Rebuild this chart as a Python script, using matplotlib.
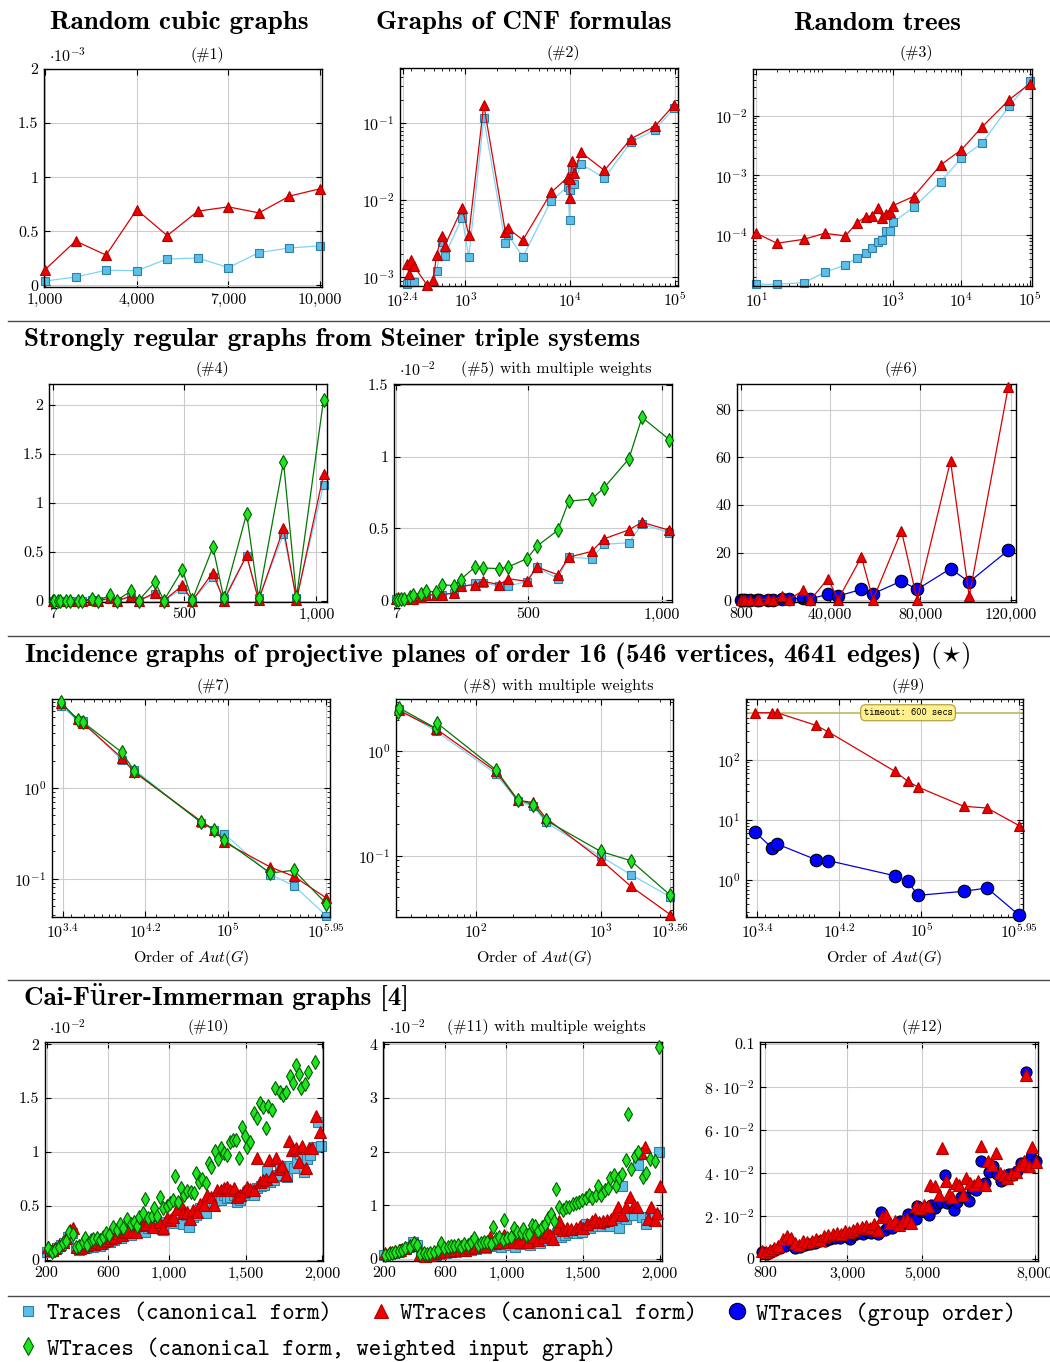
import matplotlib
matplotlib.use('Agg')
import matplotlib.pyplot as plt
import numpy as np
from matplotlib.lines import Line2D
from matplotlib.ticker import LogLocator, NullFormatter
from matplotlib.font_manager import FontProperties

plt.rcParams['font.family'] = ['cmr10', 'DejaVu Serif']
plt.rcParams['mathtext.fontset'] = 'cm'
plt.rcParams['axes.unicode_minus'] = False
plt.rcParams['axes.formatter.use_mathtext'] = True

# ------------------------------------------------------------------ data
# (#1) random cubic graphs, time in 1e-3 s
p1_x = [1000, 2000, 3000, 4000, 5000, 6000, 7000, 8000, 9000, 10000]
p1_traces = [0.04, 0.077, 0.14, 0.136, 0.244, 0.253, 0.164, 0.303, 0.346, 0.365]
p1_wtraces = [0.145, 0.41, 0.28, 0.70, 0.46, 0.686, 0.726, 0.67, 0.825, 0.893]

# (#2) CNF formulas
p2_x = [274, 290, 305, 324, 431, 492, 530, 596, 635, 930, 1076, 1496, 2404, 2547, 3540,
        6592, 9500, 9860, 10000, 10450, 10840, 12740, 21230, 38100, 64500, 98600]
p2_traces = [8.1e-4, 8.7e-4, 8.6e-4, 8.6e-4, 6.2e-4, 6.8e-4, 1.21e-3, 2.85e-3, 1.91e-3, 5.95e-3,
             1.84e-3, 0.115, 2.77e-3, 3.55e-3, 1.84e-3, 9.9e-3, 0.0150, 5.56e-3, 0.0134, 0.026,
             0.0163, 0.0294, 0.0193, 0.0567, 0.0819, 0.157]
p2_wtraces = [1.49e-3, 1.09e-3, 1.68e-3, 1.38e-3, 7.9e-4, 9.2e-4, 1.95e-3, 3.44e-3, 2.58e-3, 7.87e-3,
              3.55e-3, 0.173, 3.9e-3, 4.3e-3, 3.05e-3, 0.0126, 0.0199, 0.0106, 0.0187, 0.0318,
              0.0224, 0.0416, 0.0243, 0.0627, 0.0906, 0.173]

# (#3) random trees
p3_x = [10, 20, 50, 100, 200, 300, 400, 500, 600, 700, 800, 900, 1000, 2000, 5000, 10000, 20000, 50000, 100000]
p3_traces = [1.51e-5, 1.51e-5, 1.61e-5, 2.40e-5, 3.18e-5, 4.22e-5, 5.13e-5, 6.21e-5, 7.83e-5, 8.35e-5,
             1.18e-4, 1.20e-4, 1.65e-4, 2.94e-4, 7.92e-4, 1.95e-3, 3.48e-3, 0.0143, 0.0376]
p3_wtraces = [1.08e-4, 7.35e-5, 8.57e-5, 1.08e-4, 9.75e-5, 1.63e-4, 2.05e-4, 2.11e-4, 2.91e-4, 1.98e-4,
              2.28e-4, 2.49e-4, 3.14e-4, 4.45e-4, 1.51e-3, 2.69e-3, 6.46e-3, 0.0185, 0.0343]

# (#4), (#5) Steiner triple systems
sts_x = [7, 12, 26, 35, 57, 70, 100, 117, 155, 176, 222, 247, 301, 330, 392, 425, 495, 532,
         610, 651, 737, 782, 876, 925, 1027]
p4_traces = [0, 0, 0, 0, 0, 0, 0.001, 0.001, 0.01, 0.002, 0.02, 0.003, 0.04, 0.003, 0.068, 0.004,
             0.126, 0.005, 0.245, 0.03, 0.46, 0.03, 0.68, 0.03, 1.18]
p4_wtraces = [0, 0, 0, 0, 0, 0, 0.001, 0.001, 0.01, 0.001, 0.03, 0.002, 0.05, 0.002, 0.085, 0.002,
              0.16, 0.003, 0.29, 0.005, 0.465, 0.006, 0.74, 0.008, 1.29]
p4_weighted = [0, 0, 0, 0, 0, 0, 0.003, 0.003, 0.024, 0.005, 0.058, 0.005, 0.102, 0.005, 0.194, 0.005,
               0.32, 0.01, 0.549, 0.03, 0.89, 0.03, 1.417, 0.04, 2.05]
# (#5) in 1e-2 s
p5_traces = [0.01, 0.012, 0.012, 0.01, 0.01, 0.012, 0.02, 0.03, 0.04, 0.04, 0.05, 0.09, 0.12, 0.12,
             0.10, 0.10, 0.13, 0.23, 0.15, 0.30, 0.29, 0.39, 0.40, 0.53, 0.47]
p5_wtraces = [0.01, 0.02, 0.015, 0.01, 0.01, 0.01, 0.02, 0.035, 0.04, 0.04, 0.05, 0.097, 0.109, 0.132,
              0.109, 0.15, 0.132, 0.232, 0.178, 0.30, 0.34, 0.427, 0.49, 0.543, 0.487]
p5_weighted = [0.005, 0.005, 0.009, 0.009, 0.021, 0.039, 0.044, 0.063, 0.058, 0.109, 0.102, 0.144,
               0.232, 0.225, 0.22, 0.232, 0.29, 0.376, 0.487, 0.689, 0.705, 0.781, 0.985, 1.273, 1.118]

# (#6)
p6_x = [800, 1650, 2660, 4800, 7650, 8800, 12650, 14800, 19100, 21900, 28300, 31500, 39260, 43690,
        54020, 59190, 71730, 78670, 93430, 101700, 118970]
p6_wtraces = [0, 0, 0, 0.2, 0.2, 0.3, 0.5, 0.2, 1.8, 0.3, 4.2, 0.2, 9.1, 0.3, 18.2, 0.3, 29.2, 0.3,
              58.5, 1.7, 89.5]
p6_group = [0, 0, 0, 0.1, 0.1, 0.2, 0.3, 0.3, 0.4, 0.4, 1.1, 0.7, 2.5, 1.8, 4.6, 2.8, 8.1, 4.6,
            13.3, 7.7, 21.0]

# (#7), (#9) projective planes, x = order of Aut(G)
pp_x = [2410, 3520, 3940, 9430, 12470, 55200, 73800, 92600, 257000, 436000, 897000]
p7_traces = [8.09, 5.58, 5.44, 2.02, 1.59, 0.411, 0.341, 0.311, 0.111, 0.0837, 0.0391]
p7_wtraces = [8.66, 5.77, 5.21, 2.14, 1.49, 0.429, 0.347, 0.252, 0.1345, 0.106, 0.0612]
p7_weighted = [8.81, 5.58, 5.35, 2.47, 1.53, 0.418, 0.347, 0.265, 0.1155, 0.1236, 0.053]
p9_wtraces = [600, 600, 600, 371, 288, 64.1, 43.8, 35.2, 16.9, 15.8, 8.05]
p9_group = [6.32, 3.44, 4.0, 2.20, 2.12, 1.19, 0.962, 0.564, 0.657, 0.746, 0.263]
timeout = 600

# (#8)
p8_x = [24, 48.2, 144.5, 216.7, 289, 365, 1000, 1750, 3631]
p8_traces = [2.55, 1.555, 0.611, 0.332, 0.297, 0.209, 0.0986, 0.0658, 0.0402]
p8_wtraces = [2.47, 1.64, 0.643, 0.339, 0.324, 0.2296, 0.0916, 0.0508, 0.0272]
p8w_x = [23.8, 24.4, 47.6, 48.8, 144.5, 216.7, 289, 365, 1000, 1750, 3631]
p8_weighted = [2.36, 2.60, 1.67, 1.87, 0.667, 0.344, 0.308, 0.218, 0.110, 0.0895, 0.0417]

# (#10) CFI graphs, 1e-2 s
p10_tr_x = [200, 222, 243, 270, 291, 313, 341, 363, 391, 413, 435, 457, 478, 504, 526, 548, 570, 591,
            613, 639, 661, 683, 704, 726, 748, 776, 798, 820, 841, 863, 885, 907, 928, 957, 978, 1000,
            1022, 1043, 1065, 1087, 1109, 1130, 1152, 1178, 1200, 1222, 1243, 1270, 1291, 1313, 1335,
            1357, 1378, 1400, 1422, 1443, 1465, 1487, 1509, 1530, 1552, 1574, 1596, 1617, 1639, 1661,
            1683, 1704, 1726, 1748, 1770, 1791, 1813, 1835, 1857, 1878, 1900, 1922, 1950, 1972, 1993]
p10_tr_y = [0.071, 0.077, 0.083, 0.108, 0.139, 0.155, 0.216, 0.247, 0.108, 0.093, 0.108, 0.114, 0.133,
            0.124, 0.139, 0.133, 0.145, 0.170, 0.164, 0.185, 0.207, 0.207, 0.232, 0.247, 0.232, 0.263,
            0.278, 0.294, 0.257, 0.300, 0.309, 0.340, 0.325, 0.278, 0.355, 0.349, 0.340, 0.386, 0.417,
            0.331, 0.417, 0.309, 0.402, 0.417, 0.479, 0.464, 0.433, 0.541, 0.547, 0.572, 0.556, 0.603,
            0.572, 0.587, 0.603, 0.541, 0.556, 0.603, 0.634, 0.618, 0.603, 0.671, 0.689, 0.696, 0.825,
            0.726, 0.742, 0.788, 0.866, 0.850, 0.764, 0.866, 0.856, 0.912, 0.980, 0.819, 0.937, 0.974,
            1.051, 1.277, 1.060]
p10_wt_x = [211, 233, 254, 283, 304, 326, 352, 374, 396, 417, 439, 461, 483, 509, 530, 552, 574, 596,
            617, 646, 667, 689, 711, 733, 754, 783, 804, 826, 848, 870, 891, 913, 935, 961, 983, 1004,
            1026, 1048, 1070, 1091, 1113, 1135, 1157, 1183, 1204, 1226, 1248, 1270, 1291, 1313, 1335,
            1357, 1378, 1400, 1422, 1443, 1465, 1487, 1509, 1530, 1552, 1570, 1591, 1613, 1635, 1652,
            1674, 1696, 1717, 1739, 1761, 1783, 1804, 1826, 1848, 1870, 1891, 1913, 1935, 1961, 1987]
p10_wt_y = [0.124, 0.093, 0.108, 0.139, 0.170, 0.201, 0.278, 0.300, 0.124, 0.108, 0.124, 0.139, 0.145,
            0.145, 0.170, 0.161, 0.176, 0.185, 0.201, 0.216, 0.247, 0.232, 0.257, 0.269, 0.263, 0.257,
            0.340, 0.325, 0.331, 0.362, 0.309, 0.417, 0.355, 0.294, 0.386, 0.371, 0.402, 0.473, 0.526,
            0.433, 0.448, 0.380, 0.464, 0.442, 0.516, 0.510, 0.603, 0.587, 0.510, 0.649, 0.649, 0.665,
            0.680, 0.649, 0.671, 0.587, 0.603, 0.640, 0.680, 0.658, 0.649, 0.943, 0.726, 0.742, 0.748,
            0.927, 0.779, 0.943, 0.841, 0.866, 0.788, 1.104, 1.020, 1.036, 0.912, 1.057, 0.856, 1.042,
            1.036, 1.338, 1.190]
p10_we_x = [211, 233, 254, 283, 304, 324, 346, 370, 391, 413, 435, 450, 465, 487, 504, 526, 548, 565,
            587, 609, 635, 657, 678, 700, 722, 748, 770, 787, 804, 826, 841, 863, 885, 900, 922, 943,
            961, 983, 1004, 1026, 1041, 1059, 1080, 1098, 1117, 1139, 1161, 1178, 1196, 1217, 1239,
            1257, 1276, 1298, 1320, 1335, 1357, 1378, 1396, 1417, 1439, 1457, 1476, 1493, 1509, 1530,
            1552, 1570, 1591, 1613, 1630, 1646, 1674, 1691, 1722, 1743, 1765, 1787, 1809, 1826, 1848,
            1863, 1885, 1907, 1950]
p10_we_y = [0.108, 0.071, 0.093, 0.124, 0.155, 0.179, 0.263, 0.241, 0.124, 0.130, 0.164, 0.207, 0.139,
            0.185, 0.195, 0.207, 0.185, 0.216, 0.247, 0.232, 0.306, 0.278, 0.331, 0.294, 0.380, 0.331,
            0.349, 0.318, 0.402, 0.433, 0.563, 0.386, 0.408, 0.479, 0.411, 0.587, 0.485, 0.501, 0.526,
            0.556, 0.779, 0.541, 0.671, 0.603, 0.640, 0.634, 0.624, 0.804, 0.726, 0.748, 0.717, 0.896,
            0.859, 1.005, 0.937, 1.042, 0.995, 0.974, 1.091, 1.113, 1.113, 0.949, 1.230, 1.153, 1.051,
            1.097, 1.360, 1.314, 1.453, 1.413, 1.221, 1.431, 1.391, 1.598, 1.561, 1.530, 1.561, 1.709,
            1.638, 1.808, 1.722, 1.592, 1.629, 1.746, 1.839]

# (#11) CFI graphs with multiple weights, 1e-2 s
p11_tr_x = [204, 233, 265, 298, 330, 363, 391, 417, 443, 478, 510, 543, 575, 608, 640, 673, 705, 738,
            770, 803, 836, 868, 901, 933, 964, 992, 1024, 1057, 1089, 1122, 1154, 1187, 1219, 1252,
            1280, 1306, 1332, 1354, 1382, 1410, 1436, 1462, 1491, 1519, 1545, 1571, 1599, 1627, 1653,
            1679, 1708, 1736, 1757, 1779, 1805, 1831, 1859, 1885, 1912, 1939, 1968, 1996]
p11_tr_y = [0.075, 0.087, 0.106, 0.124, 0.180, 0.230, 0.311, 0.261, 0.062, 0.043, 0.062, 0.075, 0.087,
            0.106, 0.124, 0.124, 0.149, 0.137, 0.168, 0.186, 0.199, 0.211, 0.248, 0.261, 0.230, 0.273,
            0.261, 0.230, 0.273, 0.292, 0.261, 0.323, 0.292, 0.354, 0.398, 0.416, 0.478, 0.416, 0.447,
            0.478, 0.509, 0.478, 0.497, 0.646, 0.571, 0.621, 0.665, 0.621, 0.646, 0.621, 0.727, 0.584,
            1.366, 0.745, 0.820, 0.820, 1.752, 0.789, 0.646, 0.745, 0.820, 2.0]
p11_wt_x = [211, 243, 276, 308, 341, 369, 395, 417, 439, 471, 504, 536, 569, 601, 634, 666, 699, 731,
            764, 797, 829, 862, 894, 927, 955, 985, 1013, 1046, 1079, 1111, 1144, 1176, 1209, 1241,
            1267, 1285, 1306, 1328, 1345, 1371, 1397, 1425, 1454, 1480, 1501, 1528, 1556, 1577, 1606,
            1632, 1658, 1686, 1708, 1729, 1757, 1784, 1805, 1831, 1853, 1881, 1903, 1924, 1946, 1968,
            1983, 2000]
p11_wt_y = [0.106, 0.124, 0.137, 0.168, 0.199, 0.261, 0.323, 0.261, 0.087, 0.062, 0.075, 0.106, 0.124,
            0.137, 0.149, 0.168, 0.180, 0.168, 0.199, 0.230, 0.261, 0.248, 0.398, 0.292, 0.323, 0.447,
            0.323, 0.335, 0.311, 0.373, 0.323, 0.398, 0.354, 0.416, 0.497, 0.447, 0.373, 0.571, 0.708,
            0.540, 0.571, 0.553, 0.584, 0.621, 0.584, 0.646, 0.696, 0.745, 0.683, 0.708, 0.727, 0.745,
            0.820, 0.957, 0.820, 0.957, 1.161, 0.994, 0.957, 1.969, 2.075, 0.745, 0.957, 0.727, 0.851,
            1.366]
p11_we_x = [211, 233, 254, 276, 298, 319, 341, 369, 395, 417, 439, 460, 482, 504, 525, 551, 573, 595,
            616, 638, 660, 682, 703, 725, 747, 768, 790, 812, 833, 855, 877, 898, 911, 933, 955, 977,
            985, 1007, 1029, 1050, 1072, 1094, 1107, 1128, 1150, 1165, 1187, 1209, 1230, 1252, 1274,
            1291, 1311, 1324, 1345, 1367, 1389, 1410, 1432, 1454, 1475, 1497, 1519, 1540, 1562, 1584,
            1599, 1621, 1643, 1664, 1679, 1701, 1718, 1736, 1757, 1779, 1794, 1816, 1838, 1859, 1892,
            1914, 1935, 1968, 1996]
p11_we_y = [0.075, 0.087, 0.106, 0.124, 0.149, 0.168, 0.199, 0.230, 0.304, 0.261, 0.087, 0.106, 0.093,
            0.106, 0.124, 0.168, 0.292, 0.199, 0.230, 0.242, 0.248, 0.261, 0.230, 0.273, 0.261, 0.323,
            0.385, 0.261, 0.304, 0.323, 0.323, 0.273, 0.602, 0.373, 0.398, 0.354, 0.727, 0.385, 0.398,
            0.571, 0.509, 0.478, 0.559, 0.447, 0.460, 0.634, 0.621, 0.522, 0.602, 0.646, 0.758, 0.832,
            0.696, 1.304, 0.975, 0.913, 0.975, 0.957, 1.019, 1.037, 1.068, 1.099, 1.130, 1.193, 1.143,
            1.193, 1.366, 1.193, 1.286, 1.317, 1.503, 1.553, 1.348, 1.503, 1.578, 1.845, 2.696, 1.677,
            1.907, 2.0, 1.516, 1.596, 1.863, 1.814, 3.944]

# (#12) CFI graphs, WTraces canonical form vs group order
p12_go_x = [711, 844, 951, 1067, 1200, 1333, 1467, 1600, 1733, 1867, 2000, 2133, 2267, 2400, 2533, 2667,
            2800, 2933, 3067, 3173, 3289, 3404, 3511, 3618, 3733, 3822, 3893, 4000, 4089, 4204, 4311,
            4400, 4507, 4622, 4711, 4827, 4862, 4951, 5067, 5182, 5244, 5333, 5422, 5511, 5600, 5662,
            5751, 5840, 5929, 6044, 6133, 6249, 6338, 6427, 6560, 6667, 6782, 6889, 6996, 7111, 7200,
            7316, 7422, 7529, 7644, 7760, 7822, 7911, 8027]
p12_go_y = [0.0031, 0.0022, 0.0034, 0.0042, 0.0050, 0.0062, 0.0073, 0.0050, 0.0057, 0.0065, 0.0068,
            0.0073, 0.0081, 0.0084, 0.0093, 0.0096, 0.0099, 0.0104, 0.0093, 0.0109, 0.0120, 0.0115,
            0.0127, 0.0120, 0.0127, 0.0115, 0.0220, 0.0135, 0.0151, 0.0143, 0.0158, 0.0174, 0.0166,
            0.0208, 0.0182, 0.0186, 0.0248, 0.0224, 0.0220, 0.0205, 0.0252, 0.0236, 0.0259, 0.0264,
            0.0391, 0.0259, 0.0267, 0.0228, 0.0264, 0.0286, 0.0290, 0.0270, 0.0329, 0.0321, 0.0457,
            0.0352, 0.0404, 0.0430, 0.0394, 0.0363, 0.0373, 0.0394, 0.0388, 0.0410, 0.0446, 0.0870,
            0.0438, 0.0472, 0.0453]
p12_wt_x = [711, 827, 933, 1040, 1156, 1271, 1378, 1484, 1600, 1716, 1822, 1929, 2044, 2160, 2267, 2373,
            2489, 2604, 2711, 2818, 2933, 3049, 3156, 3262, 3378, 3493, 3600, 3707, 3822, 3911, 4044,
            4151, 4267, 4382, 4489, 4596, 4711, 4827, 4933, 5040, 5156, 5218, 5333, 5449, 5538, 5627,
            5716, 5804, 5893, 5982, 6089, 6178, 6267, 6373, 6489, 6560, 6667, 6756, 6871, 6960, 7067,
            7173, 7262, 7378, 7493, 7600, 7707, 7778, 7849, 7938, 8027]
p12_wt_y = [0.0037, 0.0031, 0.0042, 0.0050, 0.0062, 0.0093, 0.0104, 0.0099, 0.0073, 0.0065, 0.0081,
            0.0078, 0.0084, 0.0093, 0.0089, 0.0104, 0.0112, 0.0115, 0.0120, 0.0115, 0.0130, 0.0124,
            0.0135, 0.0143, 0.0146, 0.0155, 0.0143, 0.0161, 0.0135, 0.0197, 0.0205, 0.0166, 0.0174,
            0.0158, 0.0177, 0.0186, 0.0166, 0.0244, 0.0236, 0.0252, 0.0244, 0.0345, 0.0337, 0.0298,
            0.0516, 0.0360, 0.0301, 0.0290, 0.0352, 0.0342, 0.0298, 0.0376, 0.0352, 0.0345, 0.0360,
            0.0523, 0.0345, 0.0453, 0.0435, 0.0492, 0.0399, 0.0391, 0.0376, 0.0394, 0.0404, 0.0438,
            0.0453, 0.0854, 0.0430, 0.0519, 0.0450]

legend_labels = ['Traces (canonical form)', 'WTraces (canonical form)',
                 'WTraces (group order)', 'WTraces (canonical form, weighted input graph)']

# ------------------------------------------------------------------ styles
SQ = dict(m='s', ms=6, fc='#5bbfe8', ec='#2f7fa8', lc='#7fd4f5')
TR = dict(m='^', ms=7.5, fc='#ee0000', ec='#b00000', lc='#d80000')
CI = dict(m='o', ms=9, fc='#0000ff', ec='#000000', lc='#0000dd')
DI = dict(m='d', ms=7, fc='#1ee61e', ec='#005c00', lc='#007800')
SQs = dict(SQ, ms=7)
TRs = dict(TR, ms=8)
CIs = dict(CI, ms=8)
DIs = dict(DI, ms=7.5)

W, H = 1050, 1362
fig = plt.figure(figsize=(W / 100, H / 100), dpi=100)
TICK_FS = 11.5

def make_ax(box):
    l, t, r, b = box
    ax = fig.add_axes([l / W, 1 - b / H, (r - l) / W, (b - t) / H])
    ax.tick_params(which='both', direction='in', top=True, right=True, labelsize=TICK_FS)
    ax.tick_params(which='major', length=4, width=0.8, pad=4)
    ax.tick_params(which='minor', length=2.2, width=0.6)
    ax.grid(True, which='major', color='#cccccc', lw=0.8)
    ax.set_axisbelow(True)
    for s in ax.spines.values():
        s.set_linewidth(1.0)
    ax._z = 2
    return ax

def series(ax, x, y, st, line=True):
    x = np.asarray(x, float)
    y = np.asarray(y, float)
    if line:
        ax.plot(x, y, color=st['lc'], lw=0.9, zorder=ax._z)
    x0, x1 = ax.get_xlim()
    y0, y1 = ax.get_ylim()
    m = (x >= min(x0, x1)) & (x <= max(x0, x1)) & (y >= min(y0, y1)) & (y <= max(y0, y1))
    ax.plot(x[m], y[m], ls='none', marker=st['m'], ms=st['ms'], mfc=st['fc'], mec=st['ec'],
            mew=0.8, clip_on=False, zorder=ax._z + 0.5)
    ax._z += 1

def logx(ax):
    ax.set_xscale('log')
    ax.xaxis.set_minor_locator(LogLocator(base=10, subs=np.arange(2, 10), numticks=100))
    ax.xaxis.set_minor_formatter(NullFormatter())

def logy(ax):
    ax.set_yscale('log')
    ax.yaxis.set_minor_locator(LogLocator(base=10, subs=np.arange(2, 10), numticks=100))
    ax.yaxis.set_minor_formatter(NullFormatter())

def ftext(x, y, s, **kw):
    fig.text(x / W, 1 - y / H, s, **kw)

# ------------------------------------------------------------------ row 1
ax = make_ax((44, 69, 322, 287))
ax.set_xlim(967, 10065); ax.set_ylim(-0.015, 2.0)
ax.set_xticks([1000, 4000, 7000, 10000], ['1,000', '4,000', '7,000', '10,000'])
ax.set_yticks([0, 0.5, 1, 1.5, 2], ['0', '0.5', '1', '1.5', '2'])
series(ax, p1_x, p1_traces, SQ); series(ax, p1_x, p1_wtraces, TR)

ax = make_ax((400, 68, 678, 286))
logx(ax); logy(ax)
ax.set_xlim(10 ** 2.375, 10 ** 5.03); ax.set_ylim(10 ** -3.113, 10 ** -0.286)
ax.set_xticks([10 ** 2.4, 1e3, 1e4, 1e5], [r'$10^{2.4}$', r'$10^{3}$', r'$10^{4}$', r'$10^{5}$'])
ax.set_yticks([1e-3, 1e-2, 1e-1], [r'$10^{-3}$', r'$10^{-2}$', r'$10^{-1}$'])
series(ax, p2_x, p2_traces, SQ); series(ax, p2_x, p2_wtraces, TR)

ax = make_ax((753, 69, 1032, 286))
logx(ax); logy(ax)
ax.set_xlim(10 ** 0.951, 10 ** 5.034); ax.set_ylim(10 ** -4.849, 10 ** -1.218)
ax.set_xticks([10, 1e3, 1e4, 1e5], [r'$10^{1}$', r'$10^{3}$', r'$10^{4}$', r'$10^{5}$'])
ax.set_yticks([1e-4, 1e-3, 1e-2], [r'$10^{-4}$', r'$10^{-3}$', r'$10^{-2}$'])
series(ax, p3_x, p3_traces, SQ); series(ax, p3_x, p3_wtraces, TR)

# ------------------------------------------------------------------ row 2
ax = make_ax((49, 384, 327, 602))
ax.set_xlim(-8, 1040); ax.set_ylim(-0.01, 2.21)
ax.set_xticks([7, 500, 1000], ['7', '500', '1,000'])
ax.set_yticks([0, 0.5, 1, 1.5, 2], ['0', '0.5', '1', '1.5', '2'])
series(ax, sts_x, p4_traces, SQ); series(ax, sts_x, p4_wtraces, TR); series(ax, sts_x, p4_weighted, DI)

ax = make_ax((394, 384, 672, 602))
ax.set_xlim(-2, 1037); ax.set_ylim(-0.012, 1.505)
ax.set_xticks([7, 500, 1000], ['7', '500', '1,000'])
ax.set_yticks([0, 0.5, 1, 1.5], ['0', '0.5', '1', '1.5'])
series(ax, sts_x, p5_traces, SQ); series(ax, sts_x, p5_wtraces, TR); series(ax, sts_x, p5_weighted, DI)

ax = make_ax((737, 384, 1016, 602))
ax.set_xlim(-1000, 122400); ax.set_ylim(-0.7, 90.8)
ax.set_xticks([800, 40000, 80000, 120000], ['800', '40,000', '80,000', '120,000'])
ax.set_yticks([0, 20, 40, 60, 80], ['0', '20', '40', '60', '80'])
series(ax, p6_x, p6_group, CI); series(ax, p6_x, p6_wtraces, TR)

# ------------------------------------------------------------------ row 3
xt7 = [10 ** 3.4, 10 ** 4.2, 1e5, 10 ** 5.95]
xl7 = [r'$10^{3.4}$', r'$10^{4.2}$', r'$10^{5}$', r'$10^{5.95}$']
xlab = r'Order of $\mathit{Aut}(G)$'

ax = make_ax((52, 699, 330, 917))
logx(ax); logy(ax)
ax.set_xlim(10 ** 3.297, 10 ** 5.989); ax.set_ylim(10 ** -1.423, 10 ** 0.982)
ax.set_xticks(xt7, xl7)
ax.set_yticks([0.1, 1], [r'$10^{-1}$', r'$10^{0}$'])
ax.set_xlabel(xlab, fontsize=TICK_FS, labelpad=5)
series(ax, pp_x, p7_traces, SQ); series(ax, pp_x, p7_wtraces, TR); series(ax, pp_x, p7_weighted, DI)

ax = make_ax((396, 699, 673, 917))
logx(ax); logy(ax)
ax.set_xlim(10 ** 1.36, 10 ** 3.581); ax.set_ylim(10 ** -1.588, 10 ** 0.502)
ax.set_xticks([100, 1000, 10 ** 3.56], [r'$10^{2}$', r'$10^{3}$', r'$10^{3.56}$'])
ax.set_yticks([0.1, 1], [r'$10^{-1}$', r'$10^{0}$'])
ax.set_xlabel(xlab, fontsize=TICK_FS, labelpad=5)
series(ax, p8_x, p8_traces, SQ); series(ax, p8_x, p8_wtraces, TR); series(ax, p8w_x, p8_weighted, DI)

ax = make_ax((746, 699, 1023, 917))
logx(ax); logy(ax)
ax.set_xlim(10 ** 3.293, 10 ** 5.989); ax.set_ylim(10 ** -0.608, 10 ** 3.006)
ax.set_xticks(xt7, xl7)
ax.set_yticks([1, 10, 100], [r'$10^{0}$', r'$10^{1}$', r'$10^{2}$'])
ax.set_xlabel(xlab, fontsize=TICK_FS, labelpad=5)
ax.axhline(timeout, color='#bfae4f', lw=1.1, zorder=1.5)
ax.text(10 ** 4.87, timeout, 'timeout: 600 secs', family='cmtt10', fontsize=7.2,
        ha='center', va='center', zorder=10,
        bbox=dict(boxstyle='round,pad=0.3,rounding_size=0.5', fc='#fff08c', ec='#a89a3c', lw=0.8))
series(ax, pp_x, p9_wtraces, TR); series(ax, pp_x, p9_group, CI)

# ------------------------------------------------------------------ row 4
ax = make_ax((45, 1042, 323, 1261))
ax.set_xlim(189, 2004); ax.set_ylim(-0.01, 2.02)
ax.set_xticks([200, 600, 1000, 1500, 2000], ['200', '600', '1,000', '1,500', '2,000'])
ax.set_yticks([0, 0.5, 1, 1.5, 2], ['0', '0.5', '1', '1.5', '2'])
series(ax, p10_tr_x, p10_tr_y, SQs, line=False)
series(ax, p10_wt_x, p10_wt_y, TRs, line=False)
series(ax, p10_we_x, p10_we_y, DIs, line=False)

ax = make_ax((383, 1042, 662, 1261))
ax.set_xlim(195, 2016); ax.set_ylim(-0.04, 4.04)
ax.set_xticks([200, 600, 1000, 1500, 2000], ['200', '600', '1,000', '1,500', '2,000'])
ax.set_yticks([0, 1, 2, 3, 4], ['0', '1', '2', '3', '4'])
series(ax, p11_tr_x, p11_tr_y, SQs, line=False)
series(ax, p11_wt_x, p11_wt_y, TRs, line=False)
series(ax, p11_we_x, p11_we_y, DIs, line=False)

ax = make_ax((760, 1042, 1038, 1261))
ax.set_xlim(667, 8089); ax.set_ylim(-0.001, 0.1009)
ax.set_xticks([800, 3000, 5000, 8000], ['800', '3,000', '5,000', '8,000'])
ax.set_yticks([0, 0.02, 0.04, 0.06, 0.08, 0.1],
              ['0', r'$2\cdot10^{-2}$', r'$4\cdot10^{-2}$', r'$6\cdot10^{-2}$', r'$8\cdot10^{-2}$', '0.1'])
series(ax, p12_go_x, p12_go_y, CIs, line=False)
series(ax, p12_wt_x, p12_wt_y, TRs, line=False)

# ------------------------------------------------------------------ texts
SEC = dict(family=['cmb10', 'DejaVu Serif'], fontsize=19.5, va='center')
ftext(179, 23, 'Random cubic graphs', ha='center', **SEC)
ftext(524, 23, 'Graphs of CNF formulas', ha='center', **SEC)
ftext(877, 23, 'Random trees', ha='center', **SEC)
ftext(24, 340, 'Strongly regular graphs from Steiner triple systems', ha='left', **SEC)
ftext(24, 655, r'Incidence graphs of projective planes of order 16 (546 vertices, 4641 edges) $(\star)$',
      ha='left', **SEC)
ftext(24, 997, 'Cai-Fürer-Immerman graphs [4]', ha='left', **SEC)

PT = dict(fontsize=TICK_FS, va='center', ha='center')
ftext(207, 55, '(#1)', **PT)
ftext(563, 53, '(#2)', **PT)
ftext(916, 53, '(#3)', **PT)
ftext(212, 369, '(#4)', **PT)
ftext(556, 369, '(#5) with multiple weights', **PT)
ftext(901, 369, '(#6)', **PT)
ftext(213, 686, '(#7)', **PT)
ftext(558, 686, '(#8) with multiple weights', **PT)
ftext(908, 686, '(#9)', **PT)
ftext(208, 1027, '(#10)', **PT)
ftext(546, 1027, '(#11) with multiple weights', **PT)
ftext(922, 1027, '(#12)', **PT)

ftext(67, 55, r'$\cdot10^{-3}$', **PT)
ftext(417, 369, r'$\cdot10^{-2}$', **PT)
ftext(67, 1027, r'$\cdot10^{-2}$', **PT)
ftext(407, 1027, r'$\cdot10^{-2}$', **PT)

for yy in (321, 636, 980, 1296):
    fig.add_artist(Line2D([8 / W, 1.0], [1 - yy / H] * 2, color='#4a4a4a', lw=1.0))

# ------------------------------------------------------------------ legend
legfont = FontProperties(family='cmtt10', size=17)
leg_items = [(SQ, legend_labels[0], 19, 1314), (TR, legend_labels[1], 372, 1314),
             (CI, legend_labels[2], 728, 1314), (DI, legend_labels[3], 19, 1349)]
for st, lab, lx, ly in leg_items:
    h = Line2D([], [], ls='none', marker=st['m'], ms=st['ms'] * 1.3, mfc=st['fc'], mec=st['ec'], mew=0.8)
    fig.legend(handles=[h], labels=[lab], loc='center left', bbox_to_anchor=(lx / W, 1 - ly / H),
               frameon=False, prop=legfont, borderpad=0, borderaxespad=0, handlelength=0.8,
               handletextpad=0.4)

fig.savefig('out.png', dpi=100)
